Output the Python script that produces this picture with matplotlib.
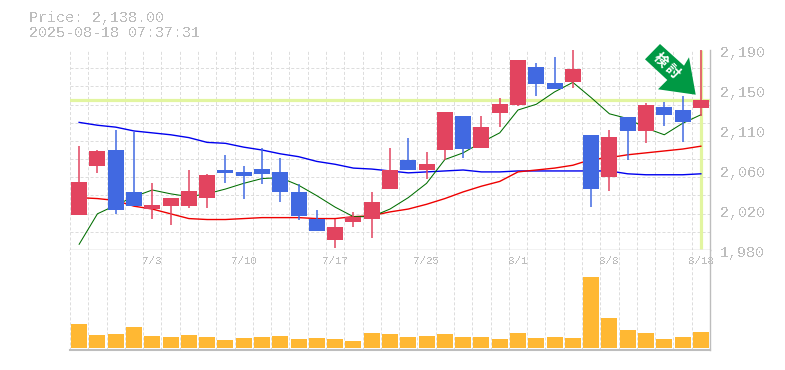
#!/usr/bin/python3
"""Candlestick chart with moving averages and volume."""
import matplotlib
matplotlib.use("Agg")
import matplotlib.pyplot as plt
from matplotlib.patches import Polygon
from matplotlib.transforms import ScaledTranslation

W, H = 785, 370
GRAY = "#bdbdbd"
GRID = "#dcdcdc"
UP = "#e2445f"
DOWN = "#4169e1"
HILITE = "#e2f5a0"

# prices
opens = [2017, 2068, 2085, 2041, 2023, 2026, 2026, 2035, 2064, 2062, 2065, 2062, 2041, 2013, 1990, 2009, 2013, 2044, 2075, 2064, 2085, 2121, 2087, 2124, 2132, 2172, 2155, 2156, 2101, 2057, 2120, 2105, 2130, 2127, 2129]
highs = [2089, 2085, 2106, 2104, 2050, 2035, 2064, 2060, 2080, 2068, 2087, 2077, 2049, 2022, 2013, 2020, 2041, 2087, 2098, 2083, 2125, 2121, 2121, 2140, 2179, 2176, 2183, 2190, 2101, 2106, 2120, 2134, 2135, 2142, 2190]
lows = [2017, 2061, 2018, 2026, 2013, 2006, 2024, 2024, 2050, 2034, 2049, 2030, 2012, 2000, 1982, 2004, 1993, 2044, 2064, 2055, 2075, 2077, 2087, 2109, 2131, 2142, 2149, 2150, 2025, 2042, 2075, 2092, 2110, 2093, 2121]
closes = [2051, 2084, 2022, 2026, 2027, 2035, 2042, 2059, 2061, 2058, 2060, 2041, 2016, 2000, 2004, 2015, 2030, 2064, 2064, 2070, 2125, 2086, 2109, 2133, 2179, 2154, 2149, 2170, 2044, 2099, 2105, 2132, 2122, 2114, 2138]
ma_short = [1986, 2018, 2027, 2036, 2043, 2039, 2036, 2039, 2044, 2050, 2055, 2056, 2048, 2037, 2025, 2015, 2015, 2023, 2035, 2050, 2075, 2082, 2093, 2103, 2127, 2133, 2146, 2156, 2140, 2123, 2118, 2108, 2101, 2113, 2122]
ma_mid = [2035, 2034, 2032, 2026, 2023, 2018, 2013, 2012, 2012, 2013, 2014, 2014, 2014, 2013, 2013, 2015, 2016, 2020, 2023, 2028, 2034, 2041, 2047, 2052, 2062, 2064, 2066, 2069, 2075, 2077, 2080, 2082, 2084, 2086, 2089]
ma_long = [2114, 2111, 2109, 2105, 2103, 2101, 2098, 2093, 2092, 2088, 2085, 2081, 2078, 2073, 2070, 2066, 2065, 2063, 2061, 2062, 2063, 2064, 2062, 2062, 2063, 2063, 2063, 2063, 2063, 2063, 2060, 2059, 2059, 2059, 2060]
volumes = [24, 13, 14, 21, 12, 11, 13, 11, 8, 10, 11, 12, 9, 10, 9, 7, 15, 14, 11, 12, 14, 11, 11, 9, 15, 10, 11, 10, 71, 30, 18, 15, 9, 11, 16]
tick_idx = [4, 9, 14, 19, 24, 29, 34]
tick_labels = ["7/3", "7/10", "7/17", "7/25", "8/1", "8/8", "8/18"]
price_ticks = [2190, 2148, 2106, 2064, 2022, 1980]
price_labels = ["2,190", "2,150", "2,110", "2,060", "2,020", "1,980"]
last_price = 2138
header = ["Price: 2,138.00", "2025-08-18 07:37:31"]

plt.rcParams["font.family"] = ["Liberation Mono", "DejaVu Sans Mono"]
plt.rcParams["text.antialiased"] = False


def box(left, top, right, bottom):
    """Pixel box to figure fractions."""
    return [left / W, 1 - bottom / H, (right - left) / W, (bottom - top) / H]


fig = plt.figure(figsize=(W / 100, H / 100), dpi=100)
ax = fig.add_axes(box(70, 50, 710, 250))
ax_vol = fig.add_axes(box(70, 250, 710, 350))

n = len(closes)
xs = list(range(n))
edges = [i - 0.5 for i in range(n + 1)]

for a in (ax, ax_vol):
    a.set_xlim(-0.5, n - 0.5)
    a.set_xticks(edges, minor=True)
    a.grid(True, which="minor", axis="x", color=GRID, lw=0.7, ls=(0, (3.1, 2.06)))
    a.tick_params(which="both", length=0)
    a.set_axisbelow(True)
    for side in ("top", "left"):
        a.spines[side].set_visible(False)
    for side in ("bottom", "right"):
        a.spines[side].set_color(GRAY)
        a.spines[side].set_linewidth(1)

ax.set_ylim(1980, 2190)
ax.set_yticks([1980 + 210 / 11 * i for i in range(12)], minor=True)
ax.grid(True, which="minor", axis="y", color=GRID, lw=0.7, ls=(0, (3.1, 2.06)))
for axis in (ax.xaxis, ax.yaxis, ax_vol.xaxis):
    for tick in axis.get_minor_ticks():
        tick.gridline.set_clip_on(False)

ax.yaxis.tick_right()
ax.set_yticks(price_ticks, price_labels, color=GRAY, fontsize=10.8)
ax.tick_params(axis="y", which="major", pad=7)
shift = ScaledTranslation(0, -2 / 100, fig.dpi_scale_trans)
for lbl in ax.get_yticklabels():
    lbl.set_transform(lbl.get_transform() + shift)
ax.set_xticks([])

ax.axhline(last_price, color=HILITE, lw=2.3, zorder=1.5)
ax.plot([n - 1, n - 1], [1981, 2190], color=HILITE, lw=2.3, zorder=1.5, solid_capstyle="butt")

ax.plot(xs, ma_long, color="#0000ee", lw=1.0, zorder=2)
ax.plot(xs, ma_mid, color="#ee0000", lw=1.0, zorder=2)
ax.plot(xs, ma_short, color="#006e00", lw=0.75, zorder=2)

colors = [UP if c >= o else DOWN for o, c in zip(opens, closes)]
ax.vlines(xs, lows, highs, colors=colors, lw=1.1, zorder=3)
ax.bar(xs, [c - o for o, c in zip(opens, closes)], bottom=opens, width=0.875,
       color=colors, zorder=3, linewidth=0)

ax_vol.bar(xs, volumes, width=0.875, color="#ffb833", linewidth=0, zorder=2)
ax_vol.set_ylim(-2, 98)
ax_vol.set_xticks([])
ax_vol.set_yticks([])
ax_vol.spines["bottom"].set_linewidth(1.5)
for idx, label in zip(tick_idx, tick_labels):
    ax_vol.text(idx, 0.885, label, transform=ax_vol.get_xaxis_transform(), color=GRAY,
                fontsize=7.8, ha="center", va="center", clip_on=False)

arrow_px = [(660, 44), (684, 65.7), (689, 57.3), (695.7, 94.7), (658, 89.3), (667.3, 80), (645, 59.3)]
fig.add_artist(Polygon([(x / W, 1 - y / H) for x, y in arrow_px], closed=True,
                       transform=fig.transFigure, facecolor="#009944", edgecolor="none", zorder=5))
fig.text(660.5 / W, 1 - 60.5 / H, "検", color="white", fontsize=10, rotation=-45, ha="center", va="center",
         family=["Noto Sans CJK JP", "DejaVu Sans"], fontweight="bold", zorder=6, antialiased=True)
fig.text(672 / W, 1 - 71.5 / H, "討", color="white", fontsize=10, rotation=-45, ha="center", va="center",
         family=["Noto Sans CJK JP", "DejaVu Sans"], fontweight="bold", zorder=6, antialiased=True)

fig.text(29 / W, 1 - 18 / H, header[0], color=GRAY, fontsize=10.8, va="center")
fig.text(29 / W, 1 - 33 / H, header[1], color=GRAY, fontsize=10.8, va="center")

fig.savefig("out.png", dpi=100)
